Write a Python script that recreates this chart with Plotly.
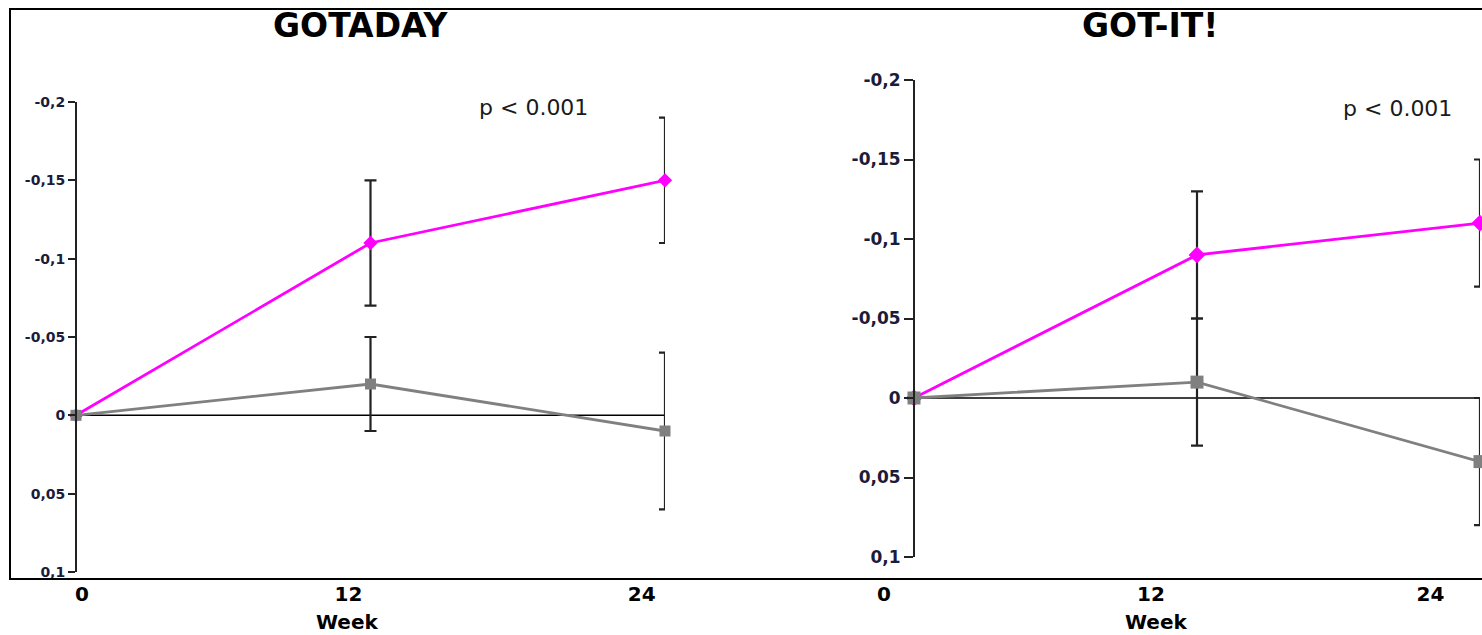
import plotly.graph_objects as go

# ---------------- data ----------------
weeks = [0, 12, 24]

gotaday_pink = [0, -0.11, -0.15]
gotaday_pink_err = [None, 0.04, 0.04]
gotaday_gray = [0, -0.02, 0.01]
gotaday_gray_err = [None, 0.03, 0.05]

gotit_pink = [0, -0.09, -0.11]
gotit_pink_err = [None, 0.04, 0.04]
gotit_gray = [0, -0.01, 0.04]
gotit_gray_err = [None, 0.04, 0.04]

y_tickvals = [-0.2, -0.15, -0.1, -0.05, 0, 0.05, 0.1]
y_ticktext = ["-0,2", "-0,15", "-0,1", "-0,05", "0", "0,05", "0,1"]
x_ticktext = ["0", "12", "24"]
titles = ["GOTADAY", "GOT-IT!"]
p_text = "p < 0.001"
x_title = "Week"

# ---------------- layout helpers ----------------
W, H = 1482, 635
FONT = "DejaVu Sans"
PINK = "#FF00FF"
GRAY = "#808080"
AXC = "#222222"
TICKC = "#1b1b3a"


def px(x):
    return x / W


def py(y):
    return 1 - y / H


# panel geometry (pixels): x of week 0, x of week 24, y of -0.2, y of 0.1, range start
panels = [
    dict(x0=76, x24=665, ytop=102, ybot=572, xmin=-1,
         tickpos=[0.24, 11.1, 23.05], tfs=14, ticklen=7, mk=11),
    dict(x0=914, x24=1480, ytop=80, ybot=557, xmin=-2,
         tickpos=[-1.27, 10.05, 21.9], tfs=17, ticklen=9, mk=13),
]

fig = go.Figure()

series = [
    (gotaday_pink, gotaday_pink_err, gotaday_gray, gotaday_gray_err),
    (gotit_pink, gotit_pink_err, gotit_gray, gotit_gray_err),
]

BOX_BOTTOM = 579

for i, (p, (pk, pke, gr, gre)) in enumerate(zip(panels, series)):
    sx = "" if i == 0 else str(i + 1)
    xa, ya = "x" + sx, "y" + sx
    ppw = (p["x24"] - p["x0"]) / 24.0
    dom_x = [px(p["x0"] + p["xmin"] * ppw), px(p["x24"])]
    dom_y = [py(p["ybot"]), py(p["ytop"])]

    fig.add_trace(go.Scatter(
        x=weeks, y=pk, xaxis=xa, yaxis=ya, mode="lines+markers",
        line=dict(color=PINK, width=2.8),
        marker=dict(symbol="diamond", size=p["mk"], color=PINK),
        error_y=dict(type="data", array=pke, visible=True, color=AXC,
                     thickness=2.2, width=6),
        cliponaxis=False, showlegend=False, hoverinfo="skip"))
    fig.add_trace(go.Scatter(
        x=weeks, y=gr, xaxis=xa, yaxis=ya, mode="lines+markers",
        line=dict(color=GRAY, width=2.8),
        marker=dict(symbol="square", size=p["mk"], color=GRAY),
        error_y=dict(type="data", array=gre, visible=True, color=AXC,
                     thickness=2.2, width=6),
        cliponaxis=False, showlegend=False, hoverinfo="skip"))

    fig.update_layout({
        "xaxis" + sx: dict(
            domain=dom_x, range=[p["xmin"], 24], anchor="free",
            position=py(BOX_BOTTOM), showline=False, showgrid=False,
            zeroline=False, ticks="", tickvals=p["tickpos"],
            ticktext=x_ticktext,
            tickfont=dict(family=FONT, size=20, color="black", weight="bold"),
            ticklabelstandoff=1),
        "yaxis" + sx: dict(
            domain=dom_y, range=[0.1, -0.2], anchor="free",
            position=px(p["x0"]), showline=True, linecolor=AXC, linewidth=2,
            showgrid=False, zeroline=False, ticks="outside",
            ticklen=p["ticklen"], tickwidth=2, tickcolor=AXC,
            tickvals=y_tickvals, ticktext=y_ticktext,
            tickfont=dict(family=FONT, size=p["tfs"], color=TICKC,
                          weight="bold")),
    })

    # zero reference line from week 0 to week 24
    fig.add_shape(type="line", xref=xa, yref=ya, x0=0, x1=24, y0=0, y1=0,
                  line=dict(color="black", width=1.5), layer="below")

# outer box
fig.add_shape(type="rect", xref="paper", yref="paper",
              x0=px(10), x1=px(1500), y0=py(BOX_BOTTOM), y1=py(9),
              line=dict(color="black", width=2), fillcolor="rgba(0,0,0,0)")

ann = []
for t, cx in zip(titles, [360, 1150]):
    ann.append(dict(text=t, x=px(cx), y=py(26), xref="paper", yref="paper",
                    showarrow=False, xanchor="center", yanchor="middle",
                    font=dict(family=FONT, size=33, color="black",
                              weight="bold")))
for cx, cy in [(533, 107), (1397, 108)]:
    ann.append(dict(text=p_text, x=px(cx), y=py(cy), xref="paper",
                    yref="paper", showarrow=False, xanchor="center",
                    yanchor="middle",
                    font=dict(family=FONT, size=22, color="#1a1a1a")))
for cx in [347, 1156]:
    ann.append(dict(text=x_title, x=px(cx), y=py(622), xref="paper",
                    yref="paper", showarrow=False, xanchor="center",
                    yanchor="middle",
                    font=dict(family=FONT, size=20, color="black",
                              weight="bold")))

fig.update_layout(
    width=W, height=H,
    margin=dict(l=0, r=0, t=0, b=0, pad=0, autoexpand=False),
    paper_bgcolor="white", plot_bgcolor="white",
    annotations=ann, showlegend=False,
)

fig.write_html("out.html")
